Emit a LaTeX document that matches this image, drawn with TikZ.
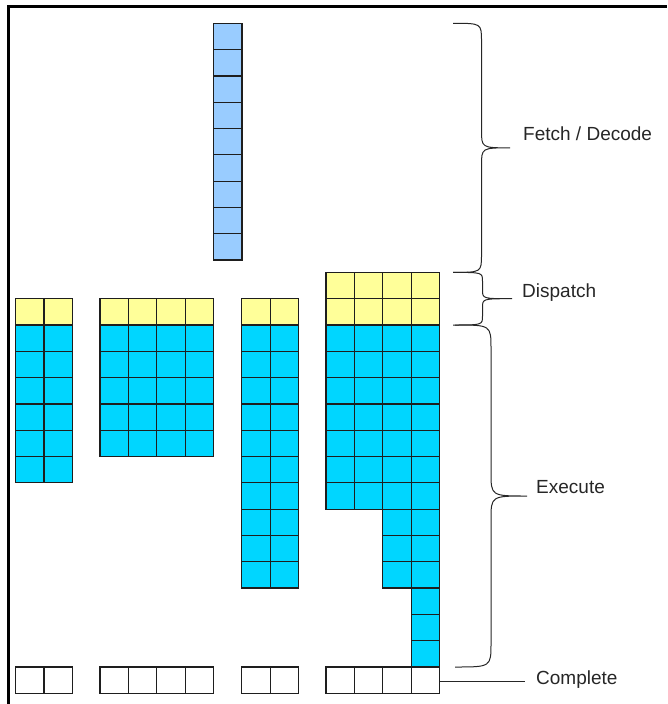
\documentclass[tikz,border=0pt]{standalone}
\usepackage{fontspec}
\setmainfont{Liberation Sans}

\definecolor{fetchblue}{HTML}{99CCFF}
\definecolor{dispyellow}{HTML}{FFFF99}
\definecolor{execcyan}{HTML}{00D6FF}
\definecolor{gridline}{HTML}{1E1E1E}

\tikzset{
  cell/.style={draw=gridline, line width=1.2pt},
  fetchcell/.style={cell, fill=fetchblue},
  dispcell/.style={cell, fill=dispyellow},
  execcell/.style={cell, fill=execcyan},
  donecell/.style={cell, fill=white},
  bracestroke/.style={draw=black!85, line width=1pt},
  stage/.style={anchor=base west, inner sep=0pt, text=black!85, font=\fontsize{19}{22}\selectfont},
}

% block of cells: left x, top y, columns, rows, style
\newcommand\cellblock[5]{%
  \foreach \i in {1,...,#3}
    \foreach \j in {1,...,#4}
      \draw[#5] ({#1+(\i-1)*28.4},{#2+(\j-1)*26.3}) rectangle ++(28.4,26.3);
}

% curly brace: x, top, bottom, tip x, bend
\newcommand\stagebrace[5]{%
  \pgfmathsetmacro\bm{(#1+#4)/2}
  \pgfmathsetmacro\bc{(#2+#3)/2}
  \draw[bracestroke] (#1,#2) .. controls (\bm,#2) .. (\bm,#2+#5)
    -- (\bm,\bc-#5) .. controls (\bm,\bc) .. (#4,\bc)
    .. controls (\bm,\bc) .. (\bm,\bc+#5)
    -- (\bm,#3-#5) .. controls (\bm,#3) .. (#1,#3);
}

\begin{document}
\begin{tikzpicture}[x=1pt, y=-1pt]
\useasboundingbox (0,0) rectangle (667,704);
% frame
\draw[line width=3pt] (8,704) -- (8,6) -- (667,6);

% fetch / decode queue
\cellblock{213.5}{23.3}{1}{9}{fetchcell}

% unit 1
\cellblock{15.5}{298.7}{2}{1}{dispcell}
\cellblock{15.5}{325}{2}{6}{execcell}
\cellblock{15.5}{667}{2}{1}{donecell}
% unit 2
\cellblock{100}{298.7}{4}{1}{dispcell}
\cellblock{100}{325}{4}{5}{execcell}
\cellblock{100}{667}{4}{1}{donecell}
% unit 3
\cellblock{241.7}{298.7}{2}{1}{dispcell}
\cellblock{241.7}{325}{2}{10}{execcell}
\cellblock{241.7}{667}{2}{1}{donecell}
% unit 4, stepped tail
\cellblock{326}{272.4}{4}{2}{dispcell}
\cellblock{326}{325}{4}{7}{execcell}
\cellblock{382.8}{509.1}{2}{3}{execcell}
\cellblock{411.2}{588}{1}{3}{execcell}
\cellblock{326}{667}{4}{1}{donecell}

% stage braces
\stagebrace{453}{23.3}{272.4}{510}{18}
\stagebrace{453}{272.4}{325}{512}{9}
\stagebrace{455}{325}{667}{527}{24}

\coordinate (done) at (440,681);
\node[stage] (fetch) at (523,140) {Fetch / Decode};
\node[stage] (dispatch) at (522,297) {Dispatch};
\node[stage] (execute) at (536,493) {Execute};
\node[stage] (complete) at (536,684) {Complete};
\draw[bracestroke, shorten >=11pt] (done) -- (complete.west |- done);
\end{tikzpicture}
\end{document}
